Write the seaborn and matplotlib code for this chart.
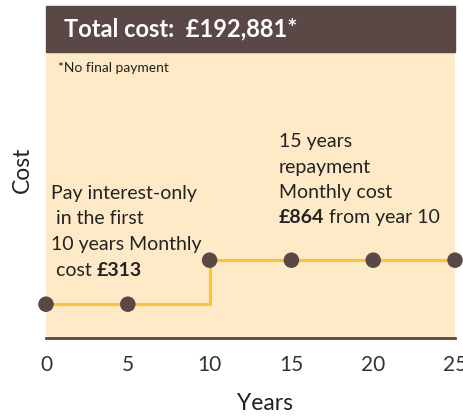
import matplotlib
matplotlib.use('Agg')
import matplotlib.pyplot as plt
from matplotlib.patches import Rectangle
import seaborn as sns
import pandas as pd

# data
years = [0, 5, 10, 15, 20, 25]
monthly_cost = [313, 313, 864, 864, 864, 864]
year_ticks = [0, 5, 10, 15, 20, 25]

BROWN = '#5a4846'
CREAM = '#ffeac7'
YELLOW = '#fbc434'
TEXT = '#222222'

df = pd.DataFrame({'year': years, 'cost': monthly_cost})

sns.set_style('white')
plt.rcParams['font.family'] = ['Lato', 'DejaVu Sans']

fig = plt.figure(figsize=(4.64, 4.17), dpi=100)
ax = fig.add_axes([46 / 464, 79 / 417, 409 / 464, 286 / 417])
ax.set_facecolor(CREAM)

sns.lineplot(data=df, x='year', y='cost', ax=ax, color=YELLOW,
             linewidth=2.2, drawstyle='steps-post', zorder=2)
sns.scatterplot(data=df, x='year', y='cost', ax=ax, color=BROWN, s=125,
                edgecolor='none', zorder=3, clip_on=False)

ax.set_xlim(0, 25)
ax.set_ylim(-110, 3470)
ax.set_yticks([])
ax.set_xticks(year_ticks)
ax.tick_params(axis='x', length=0, pad=12, labelsize=15, labelcolor='#333333')
for s in ['top', 'left', 'right']:
    ax.spines[s].set_visible(False)
ax.spines['bottom'].set_color(BROWN)
ax.spines['bottom'].set_linewidth(2)
ax.set_xlabel('Years', fontsize=16.5, color=TEXT)
ax.xaxis.set_label_coords((265 - 46) / 409, (338 - 403) / 286)
ax.set_ylabel('Cost', fontsize=16.5, color=TEXT)
ax.yaxis.set_label_coords((22 - 46) / 409, (338 - 170) / 286)
ax.xaxis.label.set_va('center')
ax.yaxis.label.set_va('center')

# header bar
fig.patches.append(Rectangle((46 / 464, 365 / 417), 409 / 464, 46 / 417,
                             transform=fig.transFigure, color=BROWN, zorder=0))
fig.text(64 / 464, 1 - 29 / 417, 'Total cost:  £192,881*', color='white',
         fontsize=17, fontweight='bold', va='center', ha='left')
fig.text(58 / 464, 1 - 68 / 417, '*No final payment', color=TEXT,
         fontsize=10, va='center', ha='left')


def ypos(pix):
    return (338 - pix) / 286


def xpos(pix):
    return (pix - 46) / 409


# left annotation
kw = dict(transform=ax.transAxes, fontsize=14, color=TEXT, va='center', ha='left')
ax.text(xpos(51), ypos(193), 'Pay interest-only', **kw)
ax.text(xpos(51), ypos(218), ' in the first', **kw)
ax.text(xpos(51), ypos(244), '10 years Monthly', **kw)
t = ax.text(xpos(51), ypos(270), ' cost ', **kw)
ax.annotate('£313', xy=(1, 0.5), xycoords=t, va='center', ha='left',
            fontsize=14, color=TEXT, fontweight='bold')

# right annotation
ax.text(xpos(279), ypos(142), '15 years', **kw)
ax.text(xpos(279), ypos(167), 'repayment', **kw)
ax.text(xpos(279), ypos(192), 'Monthly cost', **kw)
t = ax.text(xpos(279), ypos(217), '£864', fontweight='bold', **kw)
ax.annotate(' from year 10', xy=(1, 0.5), xycoords=t, va='center', ha='left',
            fontsize=14, color=TEXT)

fig.savefig('out.png', dpi=100)
